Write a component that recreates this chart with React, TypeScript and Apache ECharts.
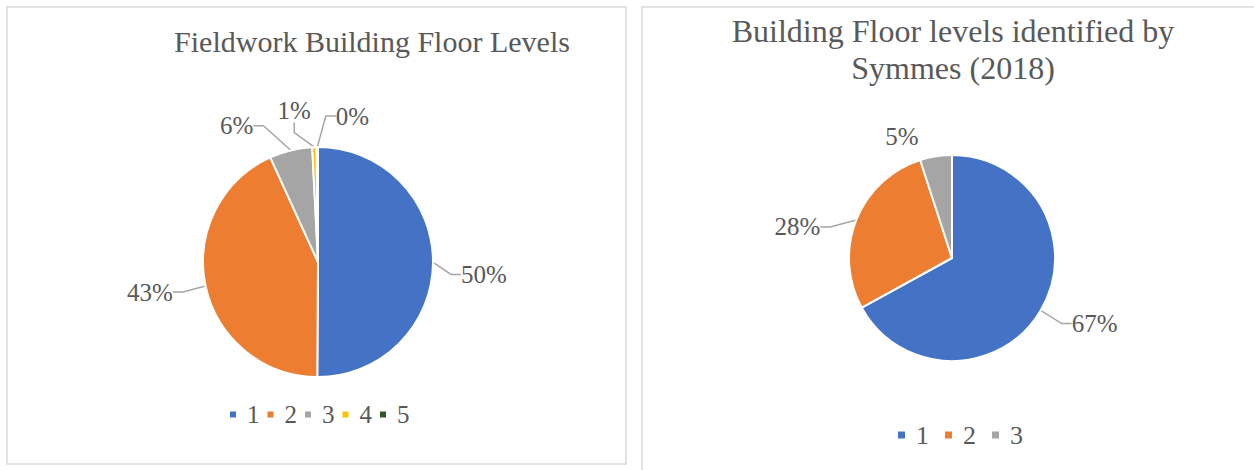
import React, { useEffect, useRef } from "react";
import * as echarts from "echarts";

// Fieldwork survey: share of buildings by number of floor levels (%)
const fieldworkFloors = ["1", "2", "3", "4", "5"];
const fieldworkShares = [50, 43, 6, 0.6, 0.2];
const fieldworkTitle = "Fieldwork Building Floor Levels";

// Symmes (2018): share of buildings by number of floor levels (%)
const symmesFloors = ["1", "2", "3"];
const symmesShares = [67, 28, 5];
const symmesTitle = "Building Floor levels identified by\nSymmes (2018)";

const floorColors: Record<string, string> = {
  "1": "#4472c4",
  "2": "#ed7d31",
  "3": "#a5a5a5",
  "4": "#ffc000",
  "5": "#375623",
};

// label nudges (px) relative to ECharts' default outside label placement
const fieldworkLabelShift = [
  [-1, 12],
  [-4, 3],
  [-19, -11],
  [12, -23],
  [67, -17],
];
const symmesLabelShift = [
  [4, 6],
  [-8, 12],
  [0, -6],
];

const FONT = "Liberation Serif";
const TEXT = "#595959";

export default function App() {
  const ref = useRef<HTMLDivElement>(null);

  useEffect(() => {
    if (!ref.current) return;
    const chart = echarts.init(ref.current, null, { renderer: "svg" });

    const toData = (names: string[], vals: number[], hideLine: number[] = []) =>
      names.map((n, i) => ({
        name: n,
        value: vals[i],
        itemStyle: { color: floorColors[n] },
        ...(hideLine.includes(i) ? { labelLine: { show: false } } : {}),
      }));

    const shiftLayout = (shifts: number[][]) => (p: any) => {
      const s = shifts[p.dataIndex] || [0, 0];
      return {
        x: p.labelRect.x + s[0],
        y: p.labelRect.y + s[1],
        align: "left",
        verticalAlign: "top",
      };
    };

    const pieCommon = {
      type: "pie" as const,
      startAngle: 90,
      clockwise: true,
      avoidLabelOverlap: false,
      itemStyle: { borderColor: "#ffffff", borderWidth: 2 },
      label: {
        show: true,
        position: "outside",
        formatter: (p: any) => `${Math.round(p.percent)}%`,
        fontFamily: FONT,
        fontSize: 25,
        color: TEXT,
      },
      labelLine: {
        show: true,
        length: 14,
        length2: 10,
        lineStyle: { color: "#a6a6a6", width: 1.5 },
      },
      emphasis: { disabled: true },
    };

    chart.setOption({
      animation: false,
      backgroundColor: "#ffffff",
      textStyle: { fontFamily: FONT, color: TEXT },
      graphic: [
        {
          type: "rect",
          shape: { x: 7, y: 7, width: 619, height: 457 },
          style: { fill: "none", stroke: "#d9d9d9", lineWidth: 1.5 },
          silent: true,
        },
        {
          type: "rect",
          shape: { x: 642, y: 7, width: 640, height: 480 },
          style: { fill: "none", stroke: "#d9d9d9", lineWidth: 1.5 },
          silent: true,
        },
      ],
      title: [
        {
          text: fieldworkTitle,
          left: 372,
          top: 26,
          padding: 0,
          textAlign: "center",
          textStyle: { fontFamily: FONT, fontSize: 30, fontWeight: "normal", color: TEXT },
        },
        {
          text: symmesTitle,
          left: 953,
          top: 12,
          padding: 0,
          textAlign: "center",
          textStyle: {
            fontFamily: FONT,
            fontSize: 32,
            fontWeight: "normal",
            color: TEXT,
            lineHeight: 37,
          },
        },
      ],
      legend: [
        {
          data: fieldworkFloors,
          left: 228,
          top: 402,
          padding: 0,
          icon: "rect",
          itemWidth: 8,
          itemHeight: 8,
          itemGap: 6,
          selectedMode: false,
          textStyle: { fontFamily: FONT, fontSize: 25, color: TEXT, padding: [0, 0, 0, 5] },
        },
        {
          data: symmesFloors,
          left: 896,
          top: 422,
          padding: 0,
          icon: "rect",
          itemWidth: 9,
          itemHeight: 9,
          itemGap: 14,
          selectedMode: false,
          textStyle: { fontFamily: FONT, fontSize: 26, color: TEXT, padding: [0, 0, 0, 5] },
        },
      ],
      series: [
        {
          ...pieCommon,
          name: "Fieldwork",
          center: [318, 262],
          radius: 115,
          data: toData(fieldworkFloors, fieldworkShares),
          labelLayout: shiftLayout(fieldworkLabelShift),
        },
        {
          ...pieCommon,
          name: "Symmes",
          center: [952, 258],
          radius: 103,
          data: toData(symmesFloors, symmesShares, [2]),
          labelLayout: shiftLayout(symmesLabelShift),
        },
      ],
    });

    return () => chart.dispose();
  }, []);

  return (
    <div
      ref={ref}
      style={{ position: "fixed", left: 0, top: 0, width: 1254, height: 470, background: "#fff" }}
    />
  );
}
